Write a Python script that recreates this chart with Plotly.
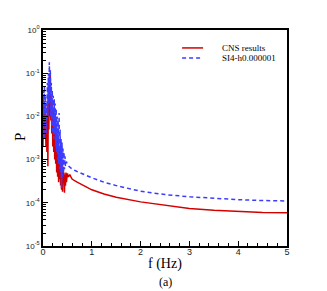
import plotly.graph_objects as go

# CNS results (red, solid)
cns_f = [0.00, 0.01, 0.02, 0.03, 0.04, 0.05, 0.06, 0.07, 0.08, 0.09,
         0.10, 0.11, 0.12, 0.13, 0.14, 0.15, 0.16, 0.17, 0.18, 0.19,
         0.20, 0.21, 0.22, 0.23, 0.24, 0.25, 0.26, 0.27, 0.28, 0.29,
         0.30, 0.31, 0.32, 0.33, 0.34, 0.35, 0.36, 0.37, 0.38, 0.39,
         0.40, 0.41, 0.42, 0.43, 0.44, 0.45, 0.46, 0.47, 0.48, 0.50,
         0.52, 0.55, 0.58, 0.60, 0.70, 0.80, 1.00, 1.25, 1.50, 2.00,
         2.50, 3.00, 3.50, 4.00, 4.50, 5.00]
cns_p = [0.002, 0.03, 0.004, 0.02, 0.003, 0.01, 0.002, 0.008, 0.0015, 0.02,
         0.0007, 0.03, 0.005, 0.06, 0.01, 0.1, 0.008, 0.03, 0.004, 0.02,
         0.002, 0.015, 0.0015, 0.01, 0.001, 0.012, 0.0008, 0.006, 0.0005, 0.004,
         0.0004, 0.003, 0.0003, 0.002, 0.00035, 0.0015, 0.00025, 0.001, 0.0002, 0.0008,
         0.00018, 0.0006, 0.0003, 0.0005, 0.00017, 0.00045, 0.00025, 0.0005, 0.0003, 0.00048,
         0.0004, 0.00045, 0.00038, 0.00035, 0.0003, 0.00026, 0.0002, 0.00016, 0.000135, 0.000105,
         0.000087, 0.000074, 0.000067, 0.000063, 0.00006, 0.000059]

# SI4-h0.000001 (blue, dashed)
si4_f = [0.00, 0.01, 0.02, 0.03, 0.04, 0.05, 0.06, 0.07, 0.08, 0.09,
         0.10, 0.11, 0.12, 0.13, 0.14, 0.15, 0.16, 0.17, 0.18, 0.19,
         0.20, 0.21, 0.22, 0.23, 0.24, 0.25, 0.26, 0.27, 0.28, 0.29,
         0.30, 0.31, 0.32, 0.33, 0.34, 0.35, 0.36, 0.37, 0.38, 0.39,
         0.40, 0.41, 0.42, 0.43, 0.44, 0.45, 0.46, 0.48, 0.50, 0.55,
         0.60, 0.70, 0.80, 1.00, 1.25, 1.50, 2.00, 2.50, 3.00, 3.50,
         4.00, 4.50, 5.00]
si4_p = [0.004, 0.04, 0.003, 0.05, 0.006, 0.03, 0.004, 0.02, 0.008, 0.06,
         0.01, 0.1, 0.02, 0.18, 0.03, 0.12, 0.01, 0.06, 0.006, 0.04,
         0.004, 0.03, 0.003, 0.025, 0.004, 0.02, 0.002, 0.015, 0.0015, 0.01,
         0.001, 0.008, 0.0008, 0.012, 0.0006, 0.005, 0.0005, 0.003, 0.00022, 0.0025,
         0.0004, 0.0018, 0.0005, 0.0015, 0.0006, 0.0012, 0.0007, 0.0009, 0.00075, 0.00068,
         0.00060, 0.00053, 0.00047, 0.00038, 0.0003, 0.00025, 0.000185, 0.000155, 0.000138, 0.000126,
         0.000118, 0.000113, 0.00011]

x_ticks = [0, 1, 2, 3, 4, 5]
y_ticks = [1e-5, 1e-4, 1e-3, 1e-2, 1e-1, 1e0]
y_labels = ["10<sup>-5</sup>", "10<sup>-4</sup>", "10<sup>-3</sup>",
            "10<sup>-2</sup>", "10<sup>-1</sup>", "10<sup>0</sup>"]
legend_names = ["CNS results", "SI4-h0.000001"]

RED = "#d40000"
BLUE = "#3c3cff"
SERIF = "Liberation Serif, Times New Roman, serif"
SANS = "Liberation Sans, Arial, sans-serif"

fig = go.Figure()
fig.add_trace(go.Scatter(x=cns_f, y=cns_p, mode="lines", name=legend_names[0],
                         line=dict(color=RED, width=1.5), showlegend=False))
fig.add_trace(go.Scatter(x=si4_f, y=si4_p, mode="lines", name=legend_names[1],
                         line=dict(color=BLUE, width=1.5, dash="4px,3px"), showlegend=False))

minor_y = []
for e in range(-5, 0):
    for m in range(2, 10):
        minor_y.append(m * 10 ** e)

fig.update_layout(
    width=327, height=291,
    margin=dict(l=43, r=40, t=30, b=45, autoexpand=False),
    paper_bgcolor="white", plot_bgcolor="white",
    xaxis=dict(range=[0, 5], tickmode="array", tickvals=x_ticks, automargin=False,
               ticks="inside", ticklen=5, tickwidth=1, tickcolor="black",
               ticklabelstandoff=-4,
               minor=dict(ticks="inside", ticklen=3, dtick=0.2, tickcolor="black"),
               showline=True, linecolor="black", linewidth=1.5, mirror=True,
               showgrid=False, zeroline=False,
               tickfont=dict(family=SANS, size=9, color="#222")),
    yaxis=dict(type="log", range=[-5, 0], tickmode="array", tickvals=y_ticks, ticktext=y_labels,
               automargin=False,
               ticks="inside", ticklen=5, tickwidth=1, tickcolor="black",
               minor=dict(ticks="inside", ticklen=3, tickmode="array", tickvals=minor_y, tickcolor="black"),
               showline=True, linecolor="black", linewidth=1.5, mirror=True,
               showgrid=False, zeroline=False,
               tickfont=dict(family=SANS, size=8, color="#222")),
    showlegend=False,
)

# manual legend
fig.add_shape(type="line", xref="paper", yref="paper", x0=0.570, x1=0.656, y0=0.917, y1=0.917,
              line=dict(color=RED, width=1.5))
fig.add_shape(type="line", xref="paper", yref="paper", x0=0.570, x1=0.656, y0=0.870, y1=0.870,
              line=dict(color=BLUE, width=1.5, dash="4px,3px"))
fig.add_annotation(xref="paper", yref="paper", x=0.725, y=0.917, text=legend_names[0],
                   showarrow=False, xanchor="left", yanchor="middle",
                   font=dict(family=SERIF, size=9, color="black"))
fig.add_annotation(xref="paper", yref="paper", x=0.725, y=0.870, text=legend_names[1],
                   showarrow=False, xanchor="left", yanchor="middle",
                   font=dict(family=SERIF, size=9, color="black"))
# axis titles and panel label
fig.add_annotation(xref="paper", yref="paper", x=0.5, y=-0.085, text="f (Hz)",
                   showarrow=False, xanchor="center", yanchor="middle",
                   font=dict(family=SERIF, size=14, color="black"))
fig.add_annotation(xref="paper", yref="paper", x=-0.094, y=0.505, text="P", textangle=-90,
                   showarrow=False, xanchor="center", yanchor="middle",
                   font=dict(family=SERIF, size=15, color="black"))
fig.add_annotation(xref="paper", yref="paper", x=0.5, y=-0.165, text="(a)",
                   showarrow=False, xanchor="center", yanchor="middle",
                   font=dict(family=SERIF, size=12, color="black"))

fig.write_html("out.html", post_script="document.body.style.margin='0px';",
               config={"displayModeBar": False})
